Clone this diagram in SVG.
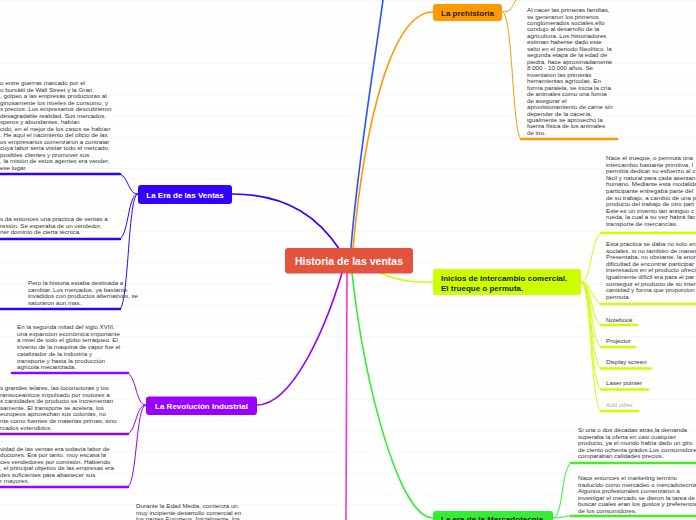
<svg xmlns="http://www.w3.org/2000/svg" width="696" height="520" viewBox="0 0 696 520">
<defs>
<style>
.t{font-family:"Liberation Sans",Arial,sans-serif;font-size:6.2px;fill:#333}
.nw{font-family:"Liberation Sans",Arial,sans-serif;font-size:8px;font-weight:bold;fill:#fff}
.nd{font-family:"Liberation Sans",Arial,sans-serif;font-size:8px;font-weight:bold;fill:#222}
.c{fill:none;stroke-width:1.6}
.cc{fill:none;stroke-width:1}
.u{fill:none;stroke-width:2.6;stroke-linecap:round}
</style>
<pattern id="rule" width="10" height="10.5" patternUnits="userSpaceOnUse">
<line x1="0" y1="0.5" x2="10" y2="0.5" stroke="#f7f7f7" stroke-width="1"/>
</pattern>
</defs>
<rect width="696" height="520" fill="#fff"/>
<rect width="696" height="520" fill="url(#rule)"/>

<g id="connectors">
<path class="c" stroke="#2255ff" d="M351,248 C358,160 375,60 383,0"/>
<path class="c" stroke="#ff9900" d="M353,248 C365,120 392,12 433,12"/>
<path class="c" stroke="#3300ff" d="M232,194 C290,194 320,220 340,250"/>
<path class="c" stroke="#9900ff" d="M257,405 C292,405 325,330 342,273"/>
<path class="c" stroke="#ff33cc" d="M347,273 L346,520"/>
<path class="c" stroke="#33ee33" d="M352,273 C365,390 400,518 433,518"/>
<path class="c" stroke="#ccff00" d="M380,273 C405,283 415,282 433,282"/>
<!-- prehistoria children -->
<path class="cc" stroke="#ff9900" d="M502,12 C512,12 512,6 516,0"/>
<path class="cc" stroke="#ff9900" d="M502,12 C513,12 512,132 521,139"/>
<path class="u" stroke="#ff9900" d="M521,139 L617,139"/>
<!-- inicios children -->
<path class="cc" stroke="#ccff00" d="M581,282 C592,282 590,240 601,233"/>
<path class="cc" stroke="#ccff00" d="M581,282 C592,282 590,298 601,304"/>
<path class="cc" stroke="#ccff00" d="M581,282 C592,282 590,318 601,325"/>
<path class="cc" stroke="#ccff00" d="M581,282 C592,282 590,340 601,347"/>
<path class="cc" stroke="#ccff00" d="M581,282 C592,282 590,362 601,368.5"/>
<path class="cc" stroke="#ccff00" d="M581,282 C592,282 590,383 601,389.5"/>
<path class="cc" stroke="#ccff00" d="M581,282 C592,282 590,405 601,411"/>
<path class="u" stroke="#ccff00" d="M601,233 L696,233"/>
<path class="u" stroke="#ccff00" d="M601,304 L696,304"/>
<path class="u" stroke="#ccff00" d="M601,325 L637,325"/>
<path class="u" stroke="#ccff00" d="M601,347 L635,347"/>
<path class="u" stroke="#ccff00" d="M601,368.5 L651,368.5"/>
<path class="u" stroke="#ccff00" d="M601,389.5 L648,389.5"/>
<path class="u" stroke="#ccff00" d="M601,411 L638,411"/>
<!-- mercadotecnia children -->
<path class="cc" stroke="#33ee33" d="M553,518 C563,518 561,470 571,463"/>
<path class="cc" stroke="#33ee33" d="M553,518 C563,518 563,516 571,516"/>
<path class="u" stroke="#44ee22" d="M571,463 L696,463"/>
<path class="u" stroke="#44ee22" d="M571,516 L696,516"/>
<!-- era de las ventas children -->
<path class="cc" stroke="#3300ff" d="M138,194 C128,194 129,178 120,174"/>
<path class="cc" stroke="#3300ff" d="M138,194 C128,194 129,232 120,239"/>
<path class="cc" stroke="#3300ff" d="M138,194 C128,194 129,300 120,309"/>
<path class="u" stroke="#3300ff" d="M0,174 L120,174"/>
<path class="u" stroke="#3300ff" d="M0,239 L120,239"/>
<path class="u" stroke="#3300ff" d="M0,309 L120,309"/>
<!-- revolucion children -->
<path class="cc" stroke="#9900ff" d="M146,405 C136,405 137,380 128,373"/>
<path class="cc" stroke="#9900ff" d="M146,405 C136,405 137,428 128,434"/>
<path class="cc" stroke="#9900ff" d="M146,405 C136,405 137,480 128,487"/>
<path class="u" stroke="#9900ff" d="M12,373 L128,373"/>
<path class="u" stroke="#9900ff" d="M0,434 L128,434"/>
<path class="u" stroke="#9900ff" d="M0,487 L128,487"/>
</g>

<g id="central">
<rect x="285" y="248" width="128" height="25.5" rx="3" fill="#e4533d"/>
<text x="349" y="264.5" text-anchor="middle" font-family="Liberation Sans, Arial, sans-serif" font-size="10.5" font-weight="bold" fill="#fff">Historia de las ventas</text>
</g>

<g id="n-prehistoria">
<rect x="433" y="4" width="69" height="17" rx="3" fill="#ff9900"/>
<text class="nd" x="467.5" y="15.5" text-anchor="middle">La prehistoria</text>
</g>

<g id="n-era-ventas">
<rect x="138" y="185" width="94" height="19" rx="3" fill="#3300ff"/>
<text class="nw" x="185" y="197.5" text-anchor="middle">La Era de las Ventas</text>
</g>

<g id="n-revolucion">
<rect x="146" y="396.5" width="111" height="18.5" rx="3" fill="#9900ff"/>
<text class="nw" x="201.5" y="408.5" text-anchor="middle">La Revolución Industrial</text>
</g>

<g id="n-inicios">
<rect x="433" y="269" width="148" height="26" rx="3" fill="#ccff00"/>
<text class="nd" x="441" y="280.5">Inicios de intercambio comercial.</text>
<text class="nd" x="441" y="290.5">El trueque o permuta.</text>
</g>

<g id="n-mercadotecnia">
<rect x="433" y="511" width="120" height="20" rx="3" fill="#33ee33"/>
<text class="nd" x="441" y="522">La era de la Mercadotecnia</text>
</g>

<g id="t-prehistoria" class="t">
<text x="527" y="12">Al nacer las primeras familias,</text>
<text x="527" y="18.5">se generaron los primeros</text>
<text x="527" y="25">conglomerados sociales,ello</text>
<text x="527" y="31.4">condujo al desarrollo de la</text>
<text x="527" y="37.9">agricultura. Los historiadores</text>
<text x="527" y="44.4">estiman haberse dado este</text>
<text x="527" y="50.8">salto en el periodo Neolítico, la</text>
<text x="527" y="57.3">segunda etapa de la edad de</text>
<text x="527" y="63.8">piedra, hace aproximadamente</text>
<text x="527" y="70.2">8.000 - 10.000 años. Se</text>
<text x="527" y="76.7">inventaron las primeras</text>
<text x="527" y="83.2">herramientas agrícolas. En</text>
<text x="527" y="89.6">forma paralela, se inicia la cría</text>
<text x="527" y="96.1">de animales como una forma</text>
<text x="527" y="102.6">de asegurar el</text>
<text x="527" y="109">aprovisionamiento de carne sin</text>
<text x="527" y="115.5">depender de la cacería,</text>
<text x="527" y="122">igualmente se aprovecho la</text>
<text x="527" y="128.4">fuerza física de los animales</text>
<text x="527" y="134.9">de tiro.</text>
</g>

<g id="t-inicios-1" class="t">
<text x="606" y="160">Nace el trueque, o permuta una</text>
<text x="606" y="166.6">intercambio bastante primitiva, l</text>
<text x="606" y="173.2">permitía dedicar su esfuerzo al c</text>
<text x="606" y="179.8">fácil y natural para cada asentan</text>
<text x="606" y="186.4">humano. Mediante esta modalida</text>
<text x="606" y="193">participante entregaba parte del</text>
<text x="606" y="199.6">de su trabajo, a cambio de una p</text>
<text x="606" y="206.2">producto del trabajo de otro part</text>
<text x="606" y="212.8">Este es un invento tan antiguo c</text>
<text x="606" y="219.4">rueda, la cual a su vez habrá fac</text>
<text x="606" y="226">transporte de mercancías.</text>
</g>

<g id="t-inicios-2" class="t">
<text x="606" y="246">Esta practica se daba no solo ent</text>
<text x="606" y="252.6">sociales, si no también de maner</text>
<text x="606" y="259.2">Presentaba, no obstante, la enor</text>
<text x="606" y="265.8">dificultad de encontrar participar</text>
<text x="606" y="272.4">interesados en el producto ofreci</text>
<text x="606" y="279">Igualmente difícil era para el par</text>
<text x="606" y="285.6">conseguir el producto de su inter</text>
<text x="606" y="292.2">cantidad y forma que proporcion</text>
<text x="606" y="298.8">permuta</text>
</g>

<g id="t-inicios-items" class="t">
<text x="606" y="321.5">Notebook</text>
<text x="606" y="342.5">Projector</text>
<text x="606" y="364">Display screen</text>
<text x="606" y="385">Laser pointer</text>
<text x="606" y="407" style="fill:#aaa">Add other</text>
</g>

<g id="t-mercadotecnia" class="t">
<text x="578" y="432">Si una o dos décadas atrás,la demanda</text>
<text x="578" y="438.6">superaba la oferta en casi cualquier</text>
<text x="578" y="445.2">producto, ya el mundo había dado un giro</text>
<text x="578" y="451.8">de ciento ochenta grados.Los consumidore</text>
<text x="578" y="458.4">comparaban calidades precios.</text>
<text x="578" y="480">Nace entonces el marketing termino</text>
<text x="578" y="486.6">traducido como mercadeo o mercadotecnia</text>
<text x="578" y="493.2">Algunos profesionales comenzaron a</text>
<text x="578" y="499.8">investigar el mercado se dieron la tarea de</text>
<text x="578" y="506.4">buscar cuales eran los gustos y preferencia</text>
<text x="578" y="513">de los consumidores.</text>
</g>

<g id="t-era-ventas" class="t">
<text x="0" y="85">o entre guerras marcado por el</text>
<text x="0" y="91.5">o bursátil de Wall Street y la Gran</text>
<text x="0" y="98">, golpeo a las empresas productoras al</text>
<text x="0" y="104.5">ginosamente los niveles de consumo, y</text>
<text x="0" y="111">s precios. Los empresarios descubrieron</text>
<text x="0" y="117.5">desagradable realidad. Sus mercados,</text>
<text x="0" y="124">speros y abundantes, habían</text>
<text x="0" y="130.5">cido, en el mejor de los casos se habían</text>
<text x="0" y="137">. He aquí el nacimiento del oficio de las</text>
<text x="0" y="143.5">os empresarios comenzaron a contratar</text>
<text x="0" y="150">cuya labor sería visitar todo el mercado,</text>
<text x="0" y="156.5">posibles clientes y promover sus</text>
<text x="0" y="163">, la misión de estos agentes era vender,</text>
<text x="0" y="169.5">ese lugar.</text>
<text x="0" y="221">s da entonces una practica de ventas a</text>
<text x="0" y="227.5">resión. Se esperaba de un vendedor,</text>
<text x="0" y="234">ner dominio de cierta técnica.</text>
<text x="28" y="285">Pero la historia estaba destinada a</text>
<text x="28" y="291.5">cambiar. Los mercados, ya bastante</text>
<text x="28" y="298">invadidos con productos alternativos, se</text>
<text x="28" y="304.5">saturaron aun mas.</text>
</g>

<g id="t-revolucion" class="t">
<text x="17" y="329">En la segunda mitad del siglo XVIII,</text>
<text x="17" y="335.7">una expancion económica importante</text>
<text x="17" y="342.4">a nivel de todo el globo terráqueo.  El</text>
<text x="17" y="349.1">invento de la maquina de vapor fue el</text>
<text x="17" y="355.8">catalizador de la industria y</text>
<text x="17" y="362.5">transporte y hasta la producción</text>
<text x="17" y="369.2">agrícola mecanizada.</text>
<text x="0" y="390">s grandes telares, las locomotoras y los</text>
<text x="0" y="396.6">ransoceanicos impulsado por motores a</text>
<text x="0" y="403.2">s cantidades de producto se incrementan</text>
<text x="0" y="409.8">samente. El transporte se acelera, los</text>
<text x="0" y="416.4"> europeos aprovechan sus colonias, no</text>
<text x="0" y="423">nte como fuentes de materias primas, sino</text>
<text x="0" y="429.6">rcados extendidos.</text>
<text x="0" y="450.5">vidad de las ventas era todavía labor de</text>
<text x="0" y="457">ductores. Era por tanto, muy escasa la</text>
<text x="0" y="463.5">ces vendedores por comisión. Habiendo</text>
<text x="0" y="470">, el principal objetivo de las empresas era</text>
<text x="0" y="476.5">des suficientes para abastecer sus</text>
<text x="0" y="483">r mayores.</text>
</g>

<g id="t-edad-media" class="t">
<text x="136" y="508">Durante la Edad Media, comienza un</text>
<text x="136" y="514.6">muy incipiente desarrollo comercial en</text>
<text x="136" y="521.2">los países Europeos. Inicialmente, los</text>
</g>
</svg>
